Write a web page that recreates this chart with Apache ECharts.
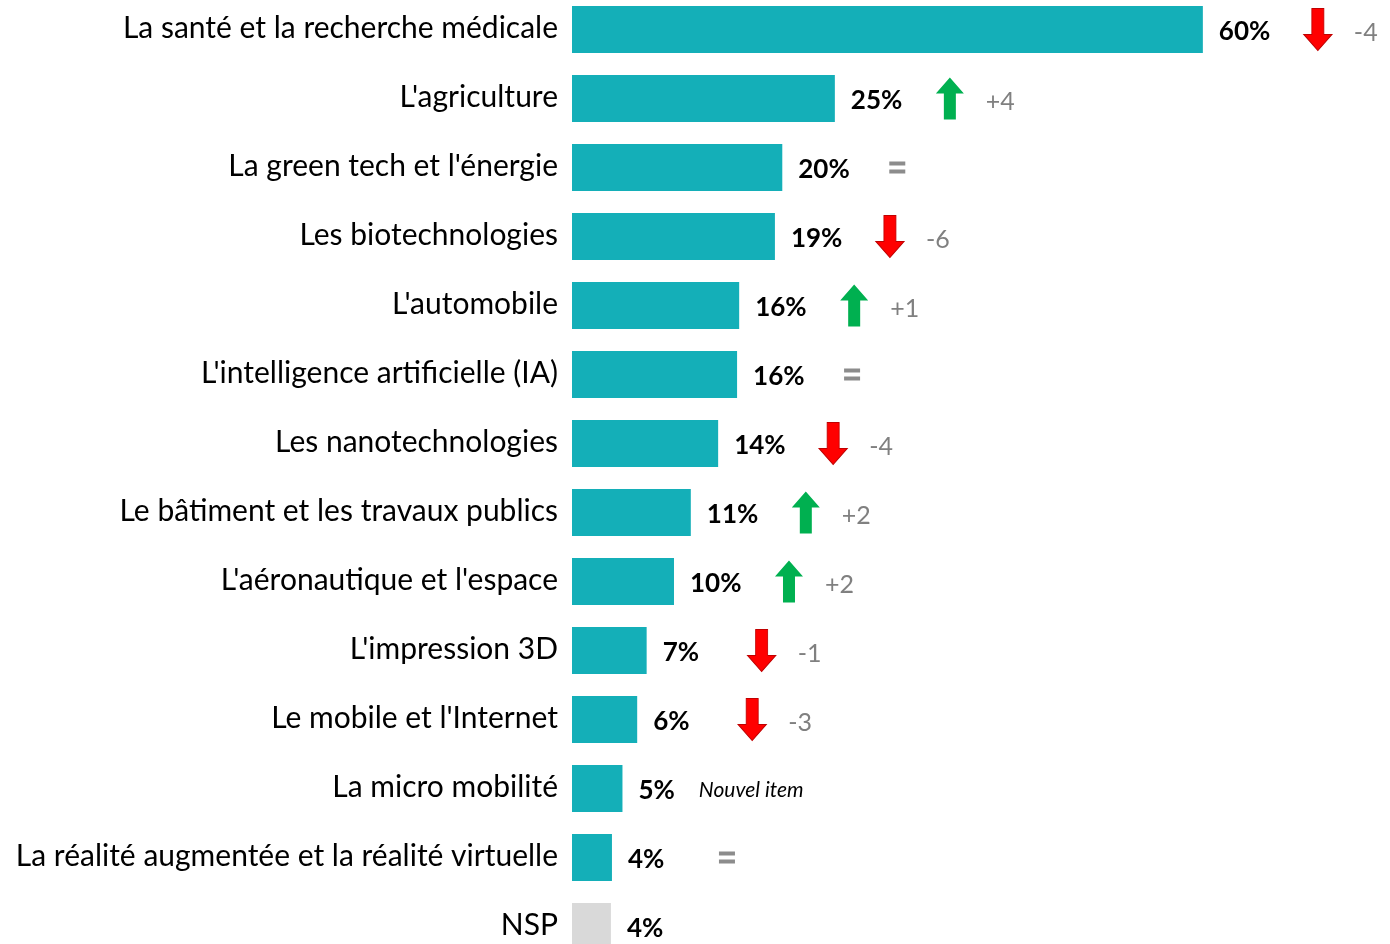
<!DOCTYPE html>
<html><head><meta charset="utf-8">
<script src="https://cdn.jsdelivr.net/npm/echarts@6/dist/echarts.min.js"></script>
<style>html,body{margin:0;padding:0;background:#fff}#c{width:1390px;height:944px}</style>
</head><body><div id="c"></div>
<script>
const categories = ["La santé et la recherche médicale","L'agriculture","La green tech et l'énergie","Les biotechnologies","L'automobile","L'intelligence artificielle (IA)","Les nanotechnologies","Le bâtiment et les travaux publics","L'aéronautique et l'espace","L'impression 3D","Le mobile et l'Internet","La micro mobilité","La réalité augmentée et la réalité virtuelle","NSP"];
const values = [60, 25, 20, 19.3, 15.9, 15.7, 13.9, 11.3, 9.7, 7.1, 6.2, 4.8, 3.8, 3.7];
const trends = ["down","up","eq","down","up","eq","down","up","up","down","down","new","eq",null];
const deltas = ["-4","+4","","-6","+1","","-4","+2","+2","-1","-3","","",""];
const newItemText = "Nouvel item";

const FONT = "Lato";
const ARROW_DOWN = 'path://M8,0 L20,0 L20,26 L28,26 L14,42 L0,26 L8,26 Z';
const ARROW_UP = 'path://M14,0 L28,16 L20,16 L20,42 L8,42 L8,16 L0,16 Z';
const EQ = 'path://M0,0 L16,0 L16,4 L0,4 Z M0,8 L16,8 L16,12 L0,12 Z';

const barData = values.map((v, i) => ({
  value: v,
  itemStyle: { color: categories[i] === 'NSP' ? '#D9D9D9' : '#14AFB8' }
}));

const markData = [];
values.forEach((v, i) => {
  const t = trends[i];
  if (!t || t === 'new') return;
  const item = { value: [v, categories[i]], delta: deltas[i] };
  if (t === 'down') { item.symbol = ARROW_DOWN; item.symbolSize = [28, 42]; item.itemStyle = { color: '#FF0000', borderColor: '#C00000', borderWidth: 1, opacity: 1 }; }
  if (t === 'up') { item.symbol = ARROW_UP; item.symbolSize = [28, 42]; item.itemStyle = { color: '#00B050', opacity: 1 }; }
  if (t === 'eq') { item.symbol = EQ; item.symbolSize = [16, 12]; item.itemStyle = { color: '#8C8C8C', opacity: 1 }; }
  markData.push(item);
});

const chart = echarts.init(document.getElementById('c'));
chart.setOption({
  animation: false,
  grid: { left: 572, top: -5, width: 736, height: 966, containLabel: false, outerBoundsMode: 'none' },
  xAxis: { type: 'value', min: 0, max: 70, show: false },
  yAxis: {
    type: 'category', data: categories, inverse: true,
    axisLine: { show: false }, axisTick: { show: false }, splitLine: { show: false },
    axisLabel: { color: '#000', fontFamily: FONT, fontSize: 30, margin: 14, verticalAlign: 'bottom', lineHeight: 34, padding: [0,0,-16,0] }
  },
  series: [
    {
      type: 'bar', data: barData, barWidth: 47,
      label: {
        show: true, position: 'right', distance: 16,
        formatter: p => {
          const s = '{v|' + Math.round(p.value) + '%}';
          return trends[p.dataIndex] === 'new' ? s + '{n|' + newItemText + '}' : s;
        },
        rich: {
          v: { fontFamily: FONT, fontWeight: 'bold', fontSize: 26, color: '#000', padding: [4,0,0,0] },
          n: { fontFamily: FONT, fontStyle: 'italic', fontSize: 21, color: '#000', padding: [4,0,0,24] }
        }
      }
    },
    {
      type: 'scatter', data: markData, symbolOffset: [115, 0], clip: false, z: 5,
      itemStyle: { opacity: 1 },
      label: {
        show: true, position: 'inside', offset: [36, 3], align: 'left',
        formatter: p => p.data.delta,
        fontFamily: FONT, fontSize: 25, color: '#808080'
      }
    }
  ]
});
</script></body></html>
